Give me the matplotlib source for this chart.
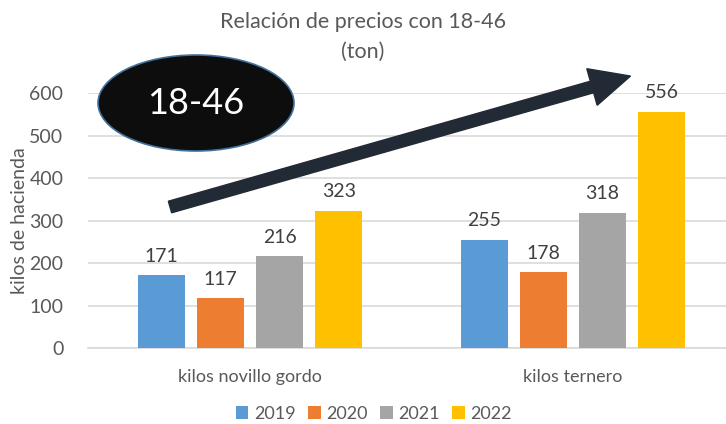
import matplotlib.pyplot as plt
import numpy as np
from matplotlib.patches import Ellipse, FancyArrow

categories = ["kilos novillo gordo", "kilos ternero"]
years = ["2019", "2020", "2021", "2022"]
values = {
    "2019": [171, 255],
    "2020": [117, 178],
    "2021": [216, 318],
    "2022": [323, 556],
}
colors = ["#5B9BD5", "#ED7D31", "#A5A5A5", "#FFC000"]
yticks = [0, 100, 200, 300, 400, 500, 600]

TEXT = "#595959"
GRID = "#D9D9D9"

plt.rcParams["font.family"] = ["Lato", "DejaVu Sans"]

fig = plt.figure(figsize=(7.26, 4.24), dpi=100)
ax = fig.add_axes([0.1219, 0.1792, 0.8898, 0.6014])

x = np.arange(len(categories))
width = 0.145
step = 0.183
for i, year in enumerate(years):
    pos = x + (i - 1.5) * step
    bars = ax.bar(pos, values[year], width, color=colors[i], label=year, zorder=3)
    for b, v in zip(bars, values[year]):
        ax.text(b.get_x() + b.get_width() / 2, v + 45, str(v), ha="center", va="center",
                fontsize=14, color="#404040", zorder=4)

ax.set_xlim(-0.5, 1.5)
ax.set_ylim(0, 600)
ax.set_yticks(yticks)
ax.set_xticks(x)
ax.set_xticklabels(categories)
ax.tick_params(axis="both", length=0, labelsize=14, colors=TEXT)
ax.tick_params(axis="x", labelsize=13, pad=15)
ax.tick_params(axis="y", pad=18)
ax.yaxis.grid(True, color=GRID, linewidth=1.2, zorder=0)
for s in ["top", "right", "left"]:
    ax.spines[s].set_visible(False)
ax.spines["bottom"].set_color(GRID)
ax.spines["bottom"].set_linewidth(1.2)

fig.text(20 / 726, 1 - 221 / 424, "kilos de hacienda", rotation=90, ha="center", va="center",
         fontsize=14, color=TEXT)

fig.text(0.5, 0.948, "Relación de precios con 18-46", ha="center", va="center",
         fontsize=15.5, color=TEXT)
fig.text(0.5, 0.877, "(ton)", ha="center", va="center", fontsize=15.5, color=TEXT)

leg = fig.legend(loc="center", bbox_to_anchor=(0.515, 0.024), ncol=4, frameon=False,
                 fontsize=13, handlelength=0.7, handleheight=0.7, handletextpad=0.3,
                 columnspacing=0.7)
for t in leg.get_texts():
    t.set_color(TEXT)

# overlay in pixel coordinates for the shapes
ov = fig.add_axes([0, 0, 1, 1], zorder=5)
ov.set_xlim(0, 726)
ov.set_ylim(424, 0)
ov.axis("off")
ov.patch.set_alpha(0)

ov.add_patch(Ellipse((196, 103), 196, 96, facecolor="#0D0D0D", edgecolor="#41719C", linewidth=1.2))
ov.text(196, 104, "18-46", ha="center", va="center", fontsize=26, color="white")

ov.add_patch(FancyArrow(170, 207, 422, -120, width=12, head_width=38, head_length=40,
                        length_includes_head=False, color="#222A35"))

fig.savefig("out.png", dpi=100)
